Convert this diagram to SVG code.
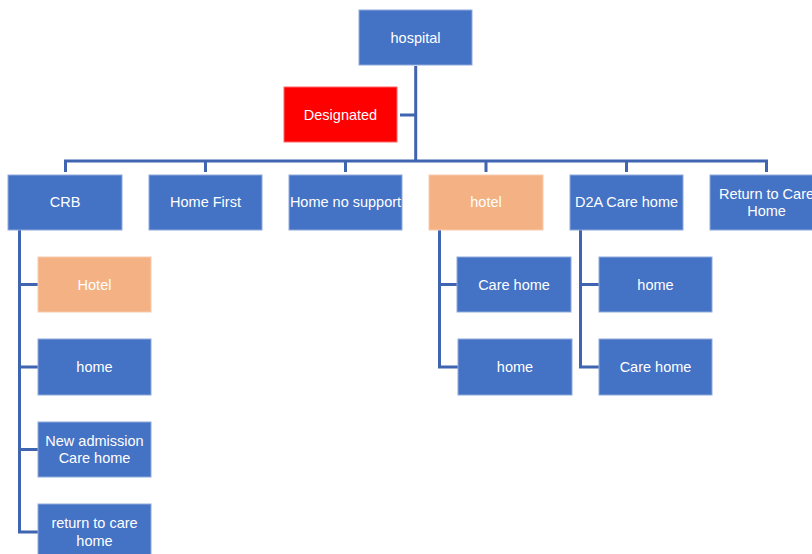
<svg xmlns="http://www.w3.org/2000/svg" width="812" height="554" viewBox="0 0 812 554">
<style>
.b{fill:#4472C4;stroke:#8FAADC;stroke-width:1}
.o{fill:#F4B183;stroke:#F8CBAD;stroke-width:1}
.r{fill:#FF0000;stroke:#FF6666;stroke-width:1}
.t{font-family:"Liberation Sans",Arial,sans-serif;font-size:14.5px;fill:#fff;text-anchor:middle;dominant-baseline:central}
.c{fill:none;stroke:#3F65B0;stroke-width:3}
</style>
<rect width="812" height="554" fill="#fff"/>
<g id="connectors">
<path class="c" d="M415.7 66V161M400 115H415.7"/>
<path class="c" d="M65.5 172V161H766.5V172M205.5 161V172M345.5 161V172M486 161V172M626.5 161V172"/>
<path class="c" d="M19.5 230V532M18 284.5H38M18 367H38M18 449.5H38M18 532H38"/>
<path class="c" d="M439.5 230V367M438 284.5H457M438 367H458"/>
<path class="c" d="M580.5 230V367M579 284.5H599M579 367H599"/>
</g>
<g id="hospital"><rect class="b" x="359" y="10" width="113" height="55"/><text class="t" x="415.5" y="38">hospital</text></g>
<g id="designated"><rect class="r" x="284" y="87" width="113" height="55"/><text class="t" x="340.5" y="115">Designated</text></g>
<g id="crb"><rect class="b" x="8" y="175" width="114" height="55"/><text class="t" x="65" y="202">CRB</text></g>
<g id="homefirst"><rect class="b" x="149" y="175" width="113" height="55"/><text class="t" x="205.5" y="202">Home First</text></g>
<g id="homenosupport"><rect class="b" x="289" y="175" width="113" height="55"/><text class="t" x="345.5" y="202">Home no support</text></g>
<g id="hotel"><rect class="o" x="429" y="175" width="114" height="55"/><text class="t" x="486" y="202">hotel</text></g>
<g id="d2a"><rect class="b" x="570" y="175" width="113" height="55"/><text class="t" x="626.5" y="202">D2A Care home</text></g>
<g id="returncare"><rect class="b" x="710" y="175" width="113" height="55"/><text class="t" x="766.5" y="194">Return to Care</text><text class="t" x="766.5" y="211">Home</text></g>
<g id="crb-hotel"><rect class="o" x="38" y="257" width="113" height="55"/><text class="t" x="94.5" y="285">Hotel</text></g>
<g id="crb-home"><rect class="b" x="38" y="339" width="113" height="56"/><text class="t" x="94.5" y="367">home</text></g>
<g id="crb-newadmission"><rect class="b" x="38" y="422" width="113" height="55"/><text class="t" x="94.5" y="441">New admission</text><text class="t" x="94.5" y="458">Care home</text></g>
<g id="crb-return"><rect class="b" x="38" y="504" width="113" height="55"/><text class="t" x="94.5" y="523">return to care</text><text class="t" x="94.5" y="541">home</text></g>
<g id="hotel-carehome"><rect class="b" x="457" y="257" width="114" height="55"/><text class="t" x="514" y="285">Care home</text></g>
<g id="hotel-home"><rect class="b" x="458" y="339" width="114" height="56"/><text class="t" x="515" y="367">home</text></g>
<g id="d2a-home"><rect class="b" x="599" y="257" width="113" height="55"/><text class="t" x="655.5" y="285">home</text></g>
<g id="d2a-carehome"><rect class="b" x="599" y="339" width="113" height="56"/><text class="t" x="655.5" y="367">Care home</text></g>
</svg>
